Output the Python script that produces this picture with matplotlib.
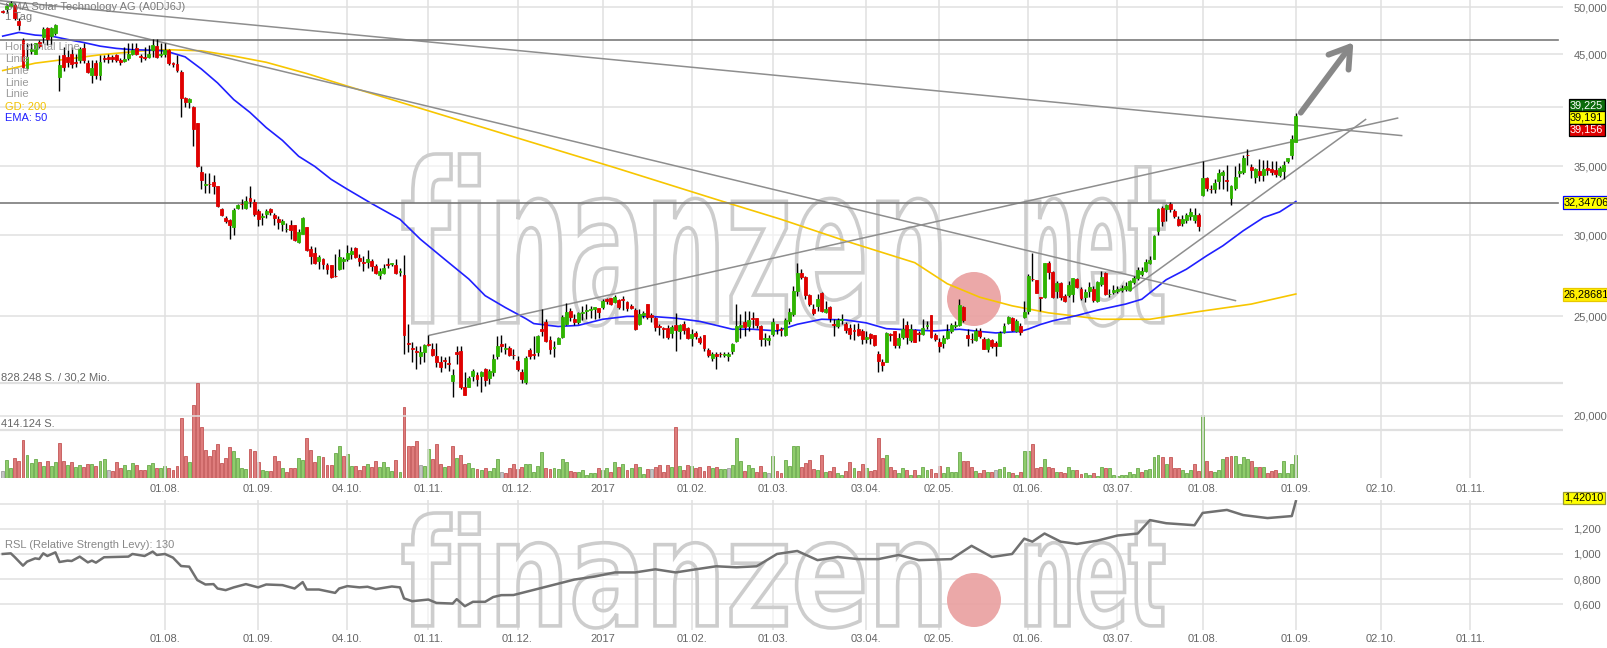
import numpy as np
import matplotlib.pyplot as plt
from matplotlib.textpath import TextPath
from matplotlib.patches import PathPatch, Circle
from matplotlib.font_manager import FontProperties
from matplotlib.transforms import Affine2D, IdentityTransform
from matplotlib.ticker import NullLocator

plt.rcParams['font.family'] = ['Liberation Sans', 'DejaVu Sans']

# ---- daily candles, SMA Solar (A0DJ6J), 06.06.2016 - 01.09.2017, EUR ----
opens = [
    49.6, 49.78, 50.15, 50.26, 48.53, 46.48, 43.62, 45.35, 45.06, 46.29,
    46.73, 47.71, 46.87, 47.23, 42.74, 44.95, 44.71, 45.06, 44.21, 44.45,
    45.66, 44.1, 43.0, 44.11, 43.0, 44.64, 44.71, 44.71, 44.92, 44.38,
    44.3, 44.6, 45.0, 45.63, 44.82, 44.71, 44.74, 45.45, 45.86, 44.93,
    45.0, 45.45, 44.11, 44.04, 43.29, 40.84, 40.42, 40.02, 38.54, 34.56,
    33.6, 33.66, 33.79, 33.47, 31.79, 31.15, 31.01, 30.55, 31.86, 32.2,
    31.9, 32.57, 32.31, 31.63, 31.25, 31.45, 31.79, 31.41, 31.13, 30.74,
    30.38, 30.67, 30.67, 29.51, 30.09, 30.52, 29.07, 28.85, 28.3, 28.46,
    28.04, 28.04, 27.4, 27.79, 28.3, 28.42, 28.75, 29.13, 28.51, 28.22,
    28.25, 28.29, 27.98, 27.46, 27.58, 28.11, 28.11, 28.04, 27.6, 27.46,
    23.56, 23.27, 23.14, 22.86, 23.06, 23.5, 23.22, 22.88, 22.58, 22.66,
    22.53, 21.61, 23.06, 23.15, 21.36, 21.36, 21.87, 21.91, 21.87, 22.21,
    21.75, 22.08, 22.86, 23.52, 23.26, 23.3, 22.95, 22.64, 22.08, 21.56,
    23.17, 23.0, 23.08, 24.29, 24.71, 23.69, 23.3, 23.52, 23.86, 24.6,
    25.3, 24.84, 24.69, 25.17, 25.3, 25.36, 25.39, 25.46, 25.52, 26.02,
    26.04, 25.84, 25.91, 26.02, 25.82, 25.6, 25.36, 24.56, 25.06, 25.68,
    25.06, 24.93, 24.45, 24.34, 24.38, 24.09, 24.52, 24.2, 24.56, 24.34,
    23.82, 24.09, 23.8, 23.99, 23.17, 22.75, 23.0, 23.0, 22.93, 22.88,
    23.12, 23.65, 24.41, 24.71, 24.45, 24.9, 24.9, 24.45, 23.78, 23.71,
    24.05, 24.56, 24.32, 23.99, 24.75, 25.13, 26.49, 27.54, 27.33, 26.2,
    25.43, 25.6, 26.37, 25.23, 25.56, 24.56, 24.45, 24.82, 24.6, 24.38,
    24.23, 24.29, 24.2, 23.79, 24.04, 23.99, 23.0, 22.58, 22.58, 24.01,
    24.18, 23.43, 23.87, 24.54, 23.71, 24.25, 24.07, 24.04, 24.48, 25.06,
    23.97, 23.63, 23.56, 23.82, 24.2, 24.48, 24.52, 25.56, 23.97, 23.78,
    23.71, 24.2, 23.75, 23.26, 23.71, 23.56, 23.4, 24.12, 24.64, 24.93,
    24.2, 24.48, 24.99, 25.3, 27.21, 27.11, 26.12, 26.13, 28.16, 27.62,
    26.47, 26.92, 26.18, 26.22, 26.29, 27.2, 26.6, 26.12, 26.47, 26.6,
    25.9, 26.9, 27.58, 26.27, 26.43, 26.47, 26.5, 26.6, 26.53, 27.0,
    27.22, 27.5, 27.68, 28.2, 28.46, 30.29, 31.91, 31.79, 32.14, 31.63,
    31.13, 30.8, 31.0, 31.28, 31.0, 31.41, 32.85, 34.13, 33.3, 33.25,
    33.9, 34.3, 33.96, 32.62, 33.32, 34.5, 34.56, 35.92, 34.97, 34.14,
    34.64, 34.3, 34.9, 34.77, 34.7, 34.36, 34.64, 35.45, 35.94, 36.99]
highs = [
    49.7, 50.37, 50.7, 50.45, 48.78, 46.69, 46.12, 46.12, 46.18, 46.48,
    47.85, 47.85, 47.85, 48.18, 44.95, 45.75, 45.45, 45.75, 45.0, 45.75,
    46.12, 44.45, 44.45, 44.45, 44.95, 44.95, 45.0, 44.93, 45.0, 44.6,
    45.75, 46.12, 46.12, 46.12, 45.0, 45.75, 45.94, 46.6, 46.6, 46.12,
    46.18, 45.5, 44.27, 44.95, 43.45, 40.93, 40.79, 40.08, 38.6, 35.0,
    34.5, 34.5, 34.3, 33.49, 31.91, 31.32, 31.08, 31.91, 32.2, 32.51,
    32.76, 33.49, 32.51, 31.79, 31.55, 31.79, 31.86, 31.55, 31.28, 31.08,
    30.85, 31.04, 30.7, 30.4, 31.22, 30.55, 29.29, 29.18, 28.66, 28.51,
    28.2, 28.06, 28.75, 29.07, 28.58, 29.33, 29.18, 29.18, 28.75, 28.64,
    29.02, 28.42, 28.11, 27.89, 28.11, 28.51, 28.2, 28.42, 27.89, 28.66,
    24.6, 23.61, 23.4, 23.4, 23.48, 23.99, 23.56, 23.56, 22.88, 22.8,
    22.88, 22.21, 23.4, 23.4, 22.05, 21.88, 22.21, 22.05, 22.13, 22.29,
    22.21, 22.97, 23.91, 23.96, 23.56, 23.4, 23.22, 22.88, 22.21, 22.88,
    23.3, 23.91, 23.99, 25.41, 24.84, 23.91, 23.65, 23.89, 25.06, 25.78,
    25.48, 25.13, 25.23, 25.58, 25.68, 25.58, 25.56, 25.5, 25.98, 26.08,
    26.08, 26.22, 26.02, 26.18, 25.86, 25.68, 25.48, 25.41, 25.3, 25.7,
    25.17, 24.99, 24.6, 24.43, 24.5, 24.5, 25.17, 24.56, 24.75, 24.43,
    24.29, 24.2, 23.91, 24.0, 23.3, 23.06, 23.1, 23.1, 23.1, 23.06,
    23.56, 25.68, 25.13, 25.3, 25.3, 25.25, 24.93, 24.5, 24.09, 23.99,
    24.9, 24.6, 24.43, 24.93, 25.48, 26.78, 28.2, 27.79, 27.37, 26.26,
    25.68, 26.26, 26.41, 25.86, 25.58, 24.84, 24.9, 25.13, 24.7, 24.56,
    24.6, 24.64, 24.32, 24.2, 24.09, 24.0, 23.14, 22.71, 24.12, 24.09,
    24.2, 24.09, 24.9, 24.75, 24.56, 24.29, 24.2, 24.84, 24.75, 25.08,
    24.09, 23.84, 23.99, 24.56, 24.64, 24.75, 26.02, 25.6, 24.29, 24.09,
    24.38, 24.38, 23.89, 23.84, 23.75, 23.65, 24.2, 24.64, 25.03, 24.99,
    24.84, 24.64, 25.86, 27.48, 28.85, 27.13, 26.14, 28.2, 28.3, 27.68,
    27.06, 27.02, 26.29, 27.06, 27.27, 27.27, 26.7, 26.57, 26.98, 26.78,
    27.06, 27.65, 27.62, 26.6, 26.8, 26.74, 26.8, 27.02, 27.11, 27.4,
    27.9, 27.9, 28.45, 28.6, 30.0, 31.91, 32.03, 32.2, 32.3, 31.8,
    31.3, 31.4, 31.55, 31.9, 31.9, 31.55, 35.4, 34.2, 33.6, 34.0,
    34.77, 34.7, 35.1, 33.6, 35.0, 35.3, 35.94, 36.4, 35.2, 34.9,
    35.6, 35.5, 35.5, 35.4, 35.45, 35.05, 35.4, 35.7, 37.57, 39.43]
lows = [
    49.4, 49.33, 50.03, 48.6, 47.53, 43.65, 43.45, 45.0, 45.0, 45.6,
    46.12, 45.94, 45.94, 46.98, 41.46, 43.38, 43.78, 43.62, 43.78, 44.11,
    44.11, 43.19, 42.2, 42.6, 42.51, 44.27, 44.11, 44.24, 44.27, 43.94,
    44.27, 44.45, 44.95, 44.95, 44.27, 44.45, 44.6, 44.74, 44.6, 44.74,
    44.74, 43.94, 43.78, 43.29, 39.09, 40.02, 39.93, 36.6, 34.95, 33.25,
    33.0, 33.0, 32.86, 31.96, 31.28, 30.84, 29.73, 30.0, 31.79, 31.79,
    31.79, 31.96, 31.32, 30.62, 30.68, 31.2, 31.41, 30.72, 30.4, 30.29,
    30.18, 29.73, 29.62, 29.45, 30.07, 28.96, 28.11, 28.11, 27.83, 27.79,
    27.48, 27.25, 27.3, 27.75, 27.79, 28.3, 28.42, 28.51, 28.0, 27.68,
    27.89, 27.68, 27.48, 27.18, 27.48, 27.89, 28.0, 27.48, 27.36, 22.97,
    23.08, 22.56, 22.21, 22.47, 22.56, 23.4, 22.88, 22.33, 22.08, 22.29,
    22.13, 20.85, 22.47, 21.24, 20.94, 21.32, 21.63, 21.4, 21.1, 21.4,
    21.48, 21.88, 22.71, 23.08, 22.97, 22.88, 22.71, 22.13, 21.53, 21.48,
    22.71, 22.71, 22.9, 23.91, 23.6, 22.97, 22.8, 23.48, 23.8, 24.5,
    24.75, 24.5, 24.6, 24.79, 24.84, 24.93, 24.84, 24.93, 25.41, 25.68,
    25.66, 25.78, 25.41, 25.37, 25.3, 25.41, 24.25, 24.54, 24.93, 24.84,
    24.66, 24.2, 23.99, 23.84, 23.75, 23.84, 23.14, 23.78, 24.04, 23.78,
    23.4, 23.75, 23.48, 23.14, 22.8, 22.62, 22.21, 22.8, 22.8, 22.6,
    22.97, 23.6, 23.84, 23.91, 24.2, 24.38, 24.38, 23.37, 23.4, 23.43,
    23.91, 24.04, 23.91, 23.91, 24.6, 25.03, 26.18, 27.18, 25.98, 25.58,
    25.08, 25.3, 25.25, 25.17, 24.71, 23.94, 24.36, 24.6, 24.09, 23.75,
    23.71, 23.91, 23.52, 23.56, 23.52, 23.4, 22.05, 22.13, 22.55, 23.65,
    23.3, 23.3, 23.75, 23.48, 23.6, 23.6, 23.65, 23.99, 24.29, 23.84,
    23.65, 23.08, 23.3, 23.75, 24.09, 24.38, 24.48, 24.71, 23.4, 23.56,
    23.65, 23.84, 23.22, 23.08, 23.3, 22.86, 23.37, 24.07, 24.56, 24.2,
    24.14, 23.99, 24.93, 25.13, 27.07, 26.33, 25.3, 26.08, 27.18, 26.04,
    26.04, 25.95, 25.82, 26.14, 25.82, 26.64, 25.95, 25.82, 26.14, 25.82,
    25.82, 26.78, 26.25, 26.14, 26.27, 26.37, 26.4, 26.47, 26.47, 26.9,
    27.1, 27.4, 27.62, 28.1, 28.42, 30.0, 30.62, 30.97, 31.6, 31.2,
    30.6, 30.6, 30.8, 31.0, 30.8, 30.3, 32.75, 33.1, 33.0, 33.0,
    33.25, 33.3, 33.15, 32.1, 33.2, 34.2, 34.4, 35.1, 34.1, 33.75,
    33.9, 33.9, 34.3, 34.3, 34.2, 34.2, 34.0, 35.3, 35.55, 36.95]
closes = [
    49.5, 50.15, 50.49, 48.78, 48.07, 43.78, 44.74, 45.49, 46.12, 45.83,
    47.64, 46.6, 47.68, 48.04, 43.94, 43.78, 44.24, 44.07, 44.11, 45.49,
    44.45, 43.29, 43.65, 42.93, 44.24, 44.57, 44.57, 44.52, 44.38, 44.24,
    44.57, 45.0, 45.45, 45.0, 44.74, 44.64, 45.0, 45.94, 44.71, 45.0,
    45.45, 44.11, 44.04, 43.45, 40.84, 40.47, 40.7, 38.02, 35.0, 33.92,
    33.64, 33.62, 33.49, 32.0, 31.37, 30.97, 30.71, 31.74, 32.07, 32.16,
    32.41, 32.37, 31.48, 31.08, 31.28, 31.66, 31.6, 31.17, 30.9, 30.95,
    30.42, 30.36, 29.64, 30.18, 31.2, 29.0, 28.64, 28.2, 28.56, 28.09,
    27.83, 27.31, 27.36, 28.58, 28.42, 28.8, 28.95, 28.58, 28.3, 28.2,
    28.42, 28.0, 27.58, 27.65, 27.87, 28.07, 28.16, 27.58, 27.7, 23.99,
    23.52, 23.22, 23.06, 23.06, 23.43, 23.46, 22.93, 22.58, 22.33, 22.6,
    22.45, 21.91, 23.0, 21.32, 20.98, 21.75, 22.1, 21.72, 22.07, 21.68,
    22.11, 22.71, 23.4, 23.4, 23.3, 22.93, 22.91, 22.24, 21.72, 22.77,
    22.88, 22.93, 23.91, 24.22, 23.65, 23.26, 23.34, 23.8, 24.99, 25.23,
    24.98, 24.66, 25.17, 25.27, 25.36, 25.43, 25.52, 25.25, 25.87, 25.9,
    25.68, 26.14, 25.52, 25.91, 25.45, 25.48, 24.29, 25.13, 25.17, 24.99,
    24.99, 24.43, 24.41, 24.29, 23.89, 24.43, 24.25, 24.5, 24.25, 23.8,
    24.01, 23.94, 23.6, 23.3, 22.93, 22.97, 22.88, 22.97, 22.99, 22.99,
    23.52, 24.45, 24.52, 24.41, 24.79, 24.86, 24.54, 23.75, 23.82, 23.82,
    24.71, 24.29, 24.25, 24.79, 25.27, 26.47, 27.54, 27.33, 26.2, 25.68,
    25.18, 26.0, 25.3, 25.41, 24.93, 24.52, 24.82, 24.86, 24.25, 24.03,
    24.19, 23.97, 23.79, 23.86, 23.8, 23.43, 22.64, 22.43, 24.09, 23.97,
    23.43, 23.8, 24.29, 23.87, 24.29, 23.62, 24.03, 24.38, 24.52, 23.86,
    23.78, 23.4, 23.82, 24.2, 24.5, 24.52, 25.67, 24.79, 23.8, 23.75,
    24.2, 23.91, 23.26, 23.75, 23.4, 23.4, 24.09, 24.48, 24.99, 24.25,
    24.75, 24.12, 25.27, 27.37, 27.16, 26.37, 26.08, 28.16, 27.62, 26.14,
    26.92, 26.14, 25.86, 26.84, 27.22, 26.7, 26.04, 26.43, 26.7, 25.95,
    26.98, 27.31, 26.29, 26.31, 26.55, 26.6, 26.66, 26.78, 27.06, 27.22,
    27.72, 27.7, 28.27, 28.37, 29.95, 31.84, 30.97, 32.1, 31.79, 31.32,
    30.72, 31.08, 31.4, 31.6, 31.41, 30.65, 34.13, 33.37, 33.25, 33.7,
    34.46, 34.56, 33.9, 33.48, 34.18, 34.63, 35.66, 35.88, 34.71, 34.77,
    34.3, 34.77, 34.71, 34.56, 34.43, 34.84, 35.13, 35.66, 37.18, 39.225]

# daily volume, thousand shares
volumes = [
    64, 158, 88, 172, 146, 333, 201, 134, 163, 137,
    108, 149, 108, 143, 301, 152, 117, 143, 99, 114,
    99, 123, 123, 108, 152, 166, 73, 64, 137, 85,
    114, 73, 134, 114, 70, 73, 114, 131, 88, 88,
    108, 88, 70, 108, 522, 190, 143, 636, 828.248, 444,
    239, 193, 239, 298, 131, 178, 268, 231, 175, 85,
    79, 251, 236, 143, 73, 64, 64, 187, 152, 88,
    55, 85, 90, 175, 160, 344, 245, 140, 193, 181,
    111, 111, 216, 274, 187, 207, 102, 102, 70, 105,
    123, 96, 152, 99, 143, 99, 64, 160, 55, 616,
    280, 274, 318, 114, 108, 254, 169, 295, 123, 93,
    108, 280, 175, 204, 123, 134, 85, 79, 73, 85,
    58, 88, 169, 55, 44, 88, 123, 79, 99, 123,
    123, 50, 108, 230, 88, 79, 88, 79, 163, 143,
    64, 50, 50, 70, 29, 47, 47, 88, 70, 88,
    55, 143, 99, 123, 70, 88, 123, 99, 35, 76,
    82, 99, 114, 55, 114, 99, 444, 105, 73, 117,
    105, 88, 99, 64, 105, 88, 93, 76, 76, 88,
    117, 350, 149, 64, 117, 88, 55, 108, 55, 47,
    187, 64, 44, 155, 105, 277, 274, 93, 131, 155,
    79, 70, 204, 55, 64, 96, 47, 29, 64, 143,
    88, 64, 123, 88, 64, 70, 350, 175, 204, 99,
    70, 47, 88, 70, 29, 70, 29, 96, 70, 79,
    47, 105, 47, 96, 55, 55, 228, 149, 149, 99,
    64, 47, 70, 55, 55, 70, 82, 96, 55, 47,
    29, 55, 236, 236, 298, 88, 99, 163, 99, 88,
    55, 55, 47, 99, 70, 70, 35, 41, 26, 44,
    20, 93, 88, 88, 29, 20, 29, 29, 55, 35,
    88, 55, 70, 79, 184, 204, 184, 123, 181, 88,
    88, 70, 47, 70, 123, 61, 551, 149, 64, 55,
    73, 166, 184, 193, 193, 123, 184, 163, 149, 99,
    99, 99, 47, 58, 70, 47, 149, 47, 120, 204]

ema_idx = [0, 4, 8, 12, 16, 20, 24, 28, 32, 36, 40, 45, 49, 53, 57, 61, 65,
           69, 73, 77, 81, 85, 91, 98, 103, 109, 115, 119, 124, 129, 131,
           137, 142, 148, 154, 160, 166, 172, 177, 180, 185, 191, 196, 202,
           208, 213, 218, 224, 230, 236, 241, 245, 251, 253, 256, 259, 265,
           270, 277, 281, 287, 292, 297, 301, 306, 311, 315, 319]
ema_val = [46.87, 47.26, 46.98, 46.87, 46.52, 46.2, 45.83, 45.6, 45.46, 45.42,
           45.35, 44.74, 43.54, 42.2, 40.65, 39.5, 38.18, 37.1, 35.8, 34.99,
           34.0, 33.25, 32.2, 31.08, 29.73, 28.42, 27.18, 26.19, 25.5, 24.88,
           24.6, 24.44, 24.5, 24.84, 25.0, 25.0, 24.9, 24.72, 24.45, 24.29,
           24.29, 24.2, 24.56, 24.84, 24.8, 24.64, 24.32, 24.25, 24.2, 24.29,
           24.17, 24.09, 24.17, 24.3, 24.55, 24.75, 25.05, 25.35, 25.7, 25.98,
           27.14, 27.79, 28.64, 29.29, 30.29, 31.2, 31.6, 32.347]
gd_idx = [0, 8, 16, 24, 32, 36, 41, 49, 57, 65, 75, 85, 100, 126, 151, 176,
          192, 208, 225, 233, 241, 249, 258, 271, 283, 295, 308, 319]
gd_val = [43.39, 44.11, 44.52, 44.95, 45.25, 45.4, 45.46, 45.35, 44.82, 44.2,
          43.1, 41.9, 40.2, 37.4, 34.9, 32.5, 31.08, 29.6, 28.2, 26.9,
          26.1, 25.6, 25.2, 24.84, 24.84, 25.27, 25.7, 26.287]

# RSL (Relative Strength Levy, 130)
rsl_idx = [0, 2, 3, 5, 6, 8, 9, 10, 11, 13, 14, 16, 17, 19, 21, 22, 23, 25,
           31, 32, 35, 37, 38, 40, 42, 44, 46, 48, 50, 52, 53, 55, 57, 60,
           63, 65, 69, 72, 74, 75, 78, 82, 83, 85, 88, 90, 92, 96, 98, 99,
           101, 105, 107, 111, 112, 114, 116, 119, 121, 123, 126, 131, 136,
           141, 146, 151, 156, 161, 166, 171, 176, 181, 186, 191, 196, 201,
           206, 211, 216, 221, 226, 234, 239, 244, 249, 252, 254, 257, 261,
           265, 270, 275, 280, 283, 287, 294, 296, 302, 306, 312, 318, 319]
rsl_val = [1.0, 1.005, 0.974, 0.907, 0.939, 0.965, 0.96, 1.005, 0.984, 1.013,
           0.936, 0.947, 0.944, 0.979, 0.933, 0.947, 0.931, 0.974, 0.979, 1.0,
           0.984, 1.019, 0.992, 1.0, 0.971, 0.904, 0.899, 0.792, 0.757, 0.76,
           0.725, 0.712, 0.734, 0.76, 0.734, 0.757, 0.752, 0.725, 0.776, 0.717,
           0.717, 0.69, 0.725, 0.744, 0.734, 0.739, 0.72, 0.741, 0.734, 0.646,
           0.624, 0.637, 0.61, 0.605, 0.64, 0.584, 0.619, 0.619, 0.657, 0.672,
           0.673, 0.714, 0.755, 0.796, 0.82, 0.853, 0.853, 0.878, 0.853, 0.878,
           0.902, 0.894, 0.902, 1.0, 1.024, 0.951, 0.976, 0.959, 0.959, 0.992,
           0.951, 0.959, 1.065, 0.976, 1.0, 1.122, 1.098, 1.163, 1.098, 1.08,
           1.106, 1.147, 1.163, 1.27, 1.245, 1.229, 1.327, 1.351, 1.31, 1.286,
           1.302, 1.4201]

# date axis: trading-day index of each label
tick_pos = [40, 63, 85, 105, 127, 148, 170, 190, 213, 231, 253, 275, 296,
            319, 340, 362]
tick_labels = ['01.08.', '01.09.', '04.10.', '01.11.', '01.12.', '2017',
               '01.02.', '01.03.', '03.04.', '02.05.', '01.06.', '03.07.',
               '01.08.', '01.09.', '02.10.', '01.11.']
price_grid = [20, 25, 30, 35, 40, 45, 50]
price_labeled = [20, 25, 30, 35, 45, 50]     # 40,000 sits under the quote boxes
rsl_grid = [0.6, 0.8, 1.0, 1.2, 1.4]
rsl_labeled = [0.6, 0.8, 1.0, 1.2]          # 1,400 sits under the RSL box

# drawn chart tools: (bar index, price)
trend_lines = [((-0.67, 50.75), (345.1, 37.5)),
               ((-0.67, 50.45), (304.1, 25.9)),
               ((105.2, 23.96), (344.1, 39.0)),
               ((277.9, 26.47), (336.2, 38.88))]
h_lines = [46.46, 32.25]
arrow_from = (319.8, 39.28)
arrow_to = (333.6, 46.46)

W, H = 1608, 648
fig = plt.figure(figsize=(W / 100, H / 100), dpi=100)
fig.patch.set_facecolor('white')


def box(x0, y0, x1, y1):
    return [x0 / W, 1 - y1 / H, (x1 - x0) / W, (y1 - y0) / H]


XL = (-0.67, 384.9)
GRID = '#e0e0e0'
TXT = '#666666'

ax_vol = fig.add_axes(box(0, 0, 1563, 478))
ax = fig.add_axes(box(0, 0, 1563, 478), sharex=ax_vol)
ax_rsl = fig.add_axes(box(0, 500, 1563, 630))

# ---- watermark ----
wm_font = FontProperties(family='DejaVu Sans', weight='bold')


def watermark(axis, x0, x1, ytop, ybase, dot_c, dot_r, net_x0, net_x1):
    p1 = TextPath((0, 0), 'finanzen', size=100, prop=wm_font)
    p2 = TextPath((0, 0), 'net', size=100, prop=wm_font)
    b1 = p1.get_extents()
    b2 = p2.get_extents()
    sy = (ybase - ytop) / b1.height
    t1 = (Affine2D().translate(-b1.x0, -b1.y0)
          .scale((x1 - x0) / b1.width, sy).translate(x0, H - ybase))
    t2 = (Affine2D().translate(-b2.x0, -b1.y0)
          .scale((net_x1 - net_x0) / b2.width, sy).translate(net_x0, H - ybase))
    for p, t in ((p1, t1), (p2, t2)):
        pp = PathPatch(t.transform_path(p), facecolor=(1, 1, 1, 0.55),
                       edgecolor='#cdcdcd', lw=2.6,
                       transform=IdentityTransform(), zorder=1)
        pp.set_clip_path(axis.patch)
        axis.add_artist(pp)
    c = Circle((dot_c[0], H - dot_c[1]), dot_r, facecolor='#eaa3a3', edgecolor='none',
               alpha=0.95, transform=IdentityTransform(), zorder=1)
    c.set_clip_path(axis.patch)
    axis.add_artist(c)


# ---- volume ----
x = np.arange(len(closes))
vcol, vedge = [], []
for i in range(len(closes)):
    if i == 0 or closes[i] == closes[i - 1]:
        vcol.append('#c4c4c4'); vedge.append('#a0a0a0')
    elif closes[i] > closes[i - 1]:
        vcol.append('#8fcc6c'); vedge.append('#69aa4a')
    else:
        vcol.append('#de7c7c'); vedge.append('#c45656')
ax_vol.bar(x, volumes, width=0.72, color=vcol, edgecolor=vedge, linewidth=0.6, zorder=2)
for v in (828.248, 414.124):
    ax_vol.axhline(v, color=GRID, lw=1.6, zorder=1)
ax_vol.set_xlim(*XL)
ax_vol.set_ylim(0, 4154)
ax_vol.axis('off')

# ---- price panel ----
ax.set_facecolor('none')
ax.set_yscale('log')
ax.set_ylim(17.40, 50.825)
ax.set_xlim(*XL)
for v in price_grid:
    ax.axhline(v, color=GRID, lw=1.1, zorder=0.5)
for t in tick_pos:
    ax.axvline(t, color=GRID, lw=1.1, zorder=0.5)

watermark(ax, 403, 940, 154, 326, (974, 299), 27, 1026, 1164)

o = np.array(opens); c = np.array(closes)
up = c >= o
ax.vlines(x, lows, highs, color='black', lw=1.0, zorder=3)
ax.bar(x, np.abs(c - o), bottom=np.minimum(o, c), width=0.72,
       color=np.where(up, '#2fb400', '#e00000'),
       edgecolor=np.where(up, '#2fb400', '#e00000'), linewidth=0.6, zorder=4)

ax.plot(gd_idx, gd_val, color='#f7c600', lw=1.2, zorder=2.5)
ax.plot(ema_idx, ema_val, color='#2020ff', lw=1.2, zorder=2.5)

for (a, b) in trend_lines:
    ax.plot([a[0], b[0]], [a[1], b[1]], color='#8e8e8e', lw=1.1, zorder=2.6)
for v in h_lines:
    ax.axhline(v, xmax=0.997, color='#7a7a7a', lw=1.2, zorder=2.6)
ax.annotate('', xy=arrow_to, xytext=arrow_from,
            arrowprops=dict(arrowstyle='->,head_length=0.7,head_width=0.45',
                            color='#888888', lw=4.2, mutation_scale=20,
                            capstyle='round', joinstyle='round'), zorder=5)

ax.yaxis.tick_right()
ax.yaxis.set_minor_locator(NullLocator())
ax.set_yticks(price_labeled)
ax.set_yticklabels([f'{v:.3f}'.replace('.', ',') for v in price_labeled])
ax.tick_params(axis='y', length=0, pad=7.5, labelsize=8, labelcolor=TXT)
ax.set_xticks(tick_pos)
ax.set_xticklabels(tick_labels)
ax.tick_params(axis='x', length=0, pad=4.5, labelsize=8, labelcolor=TXT)
for lab in ax.get_yticklabels():
    lab.set_horizontalalignment('left')
for s in ax.spines.values():
    s.set_visible(False)
ax.grid(False)

# ---- RSL panel ----
ax_rsl.set_facecolor('none')
ax_rsl.set_xlim(*XL)
ax_rsl.set_ylim(0.3944, 1.430)
for v in rsl_grid:
    ax_rsl.axhline(v, color=GRID, lw=1.1, zorder=0.5)
for t in tick_pos:
    ax_rsl.axvline(t, color=GRID, lw=1.1, zorder=0.5)
watermark(ax_rsl, 403, 940, 513, 628, (974, 600), 27, 1026, 1164)
ax_rsl.plot(rsl_idx, rsl_val, color='#707070', lw=1.8, zorder=3)
ax_rsl.yaxis.tick_right()
ax_rsl.set_yticks(rsl_labeled)
ax_rsl.set_yticklabels([f'{v:.3f}'.replace('.', ',') for v in rsl_labeled])
ax_rsl.tick_params(axis='y', length=0, pad=7.5, labelsize=8, labelcolor=TXT)
for lab in ax_rsl.get_yticklabels():
    lab.set_horizontalalignment('left')
ax_rsl.set_xticks(tick_pos)
ax_rsl.set_xticklabels(tick_labels)
ax_rsl.tick_params(axis='x', length=0, pad=3, labelsize=8, labelcolor=TXT)
for s in ax_rsl.spines.values():
    s.set_visible(False)


# ---- texts ----
def ftext(px, py, s, **kw):
    fig.text(px / W, 1 - py / H, s, va='center', **kw)


ftext(5, 6.5, 'SMA Solar Technology AG (A0DJ6J)', color='#7a7a7a', fontsize=8)
ftext(5, 17, '1 Tag', color='#7a7a7a', fontsize=8)
ftext(5, 47, 'Horizontal Line', color='#9a9a9a', fontsize=8)
for k in range(4):
    ftext(5, 59 + 11.8 * k, 'Linie', color='#9a9a9a', fontsize=8)
ftext(5, 106.7, 'GD: 200', color='#f2c200', fontsize=8)
ftext(5, 118.3, 'EMA: 50', color='#2020ff', fontsize=8)
ftext(1, 377, '828.248 S. / 30,2 Mio.', color=TXT, fontsize=8)
ftext(1, 424, '414.124 S.', color=TXT, fontsize=8)
ftext(5, 545, 'RSL (Relative Strength Levy): 130', color='#888888', fontsize=8)

boxes = [(105, '39,225', '#0b6b0b', 'white', 'black'),
         (117.5, '39,191', '#ffff00', 'black', 'black'),
         (130, '39,156', '#dd0000', 'white', 'black'),
         (202.5, '32,34706', '#ffff00', 'black', '#0000ff'),
         (294.5, '26,28681', '#ffee00', 'black', '#e8c800'),
         (498, '1,42010', '#ffff00', 'black', '#999933')]
for py, s, bg, fg, ec in boxes:
    px = 1570 if len(s) == 6 else 1564
    ftext(px, py, s, color=fg, fontsize=7.8, zorder=10,
          bbox=dict(boxstyle='square,pad=0.12', facecolor=bg, edgecolor=ec, lw=0.9))

fig.savefig('out.png', dpi=100, facecolor='white')
